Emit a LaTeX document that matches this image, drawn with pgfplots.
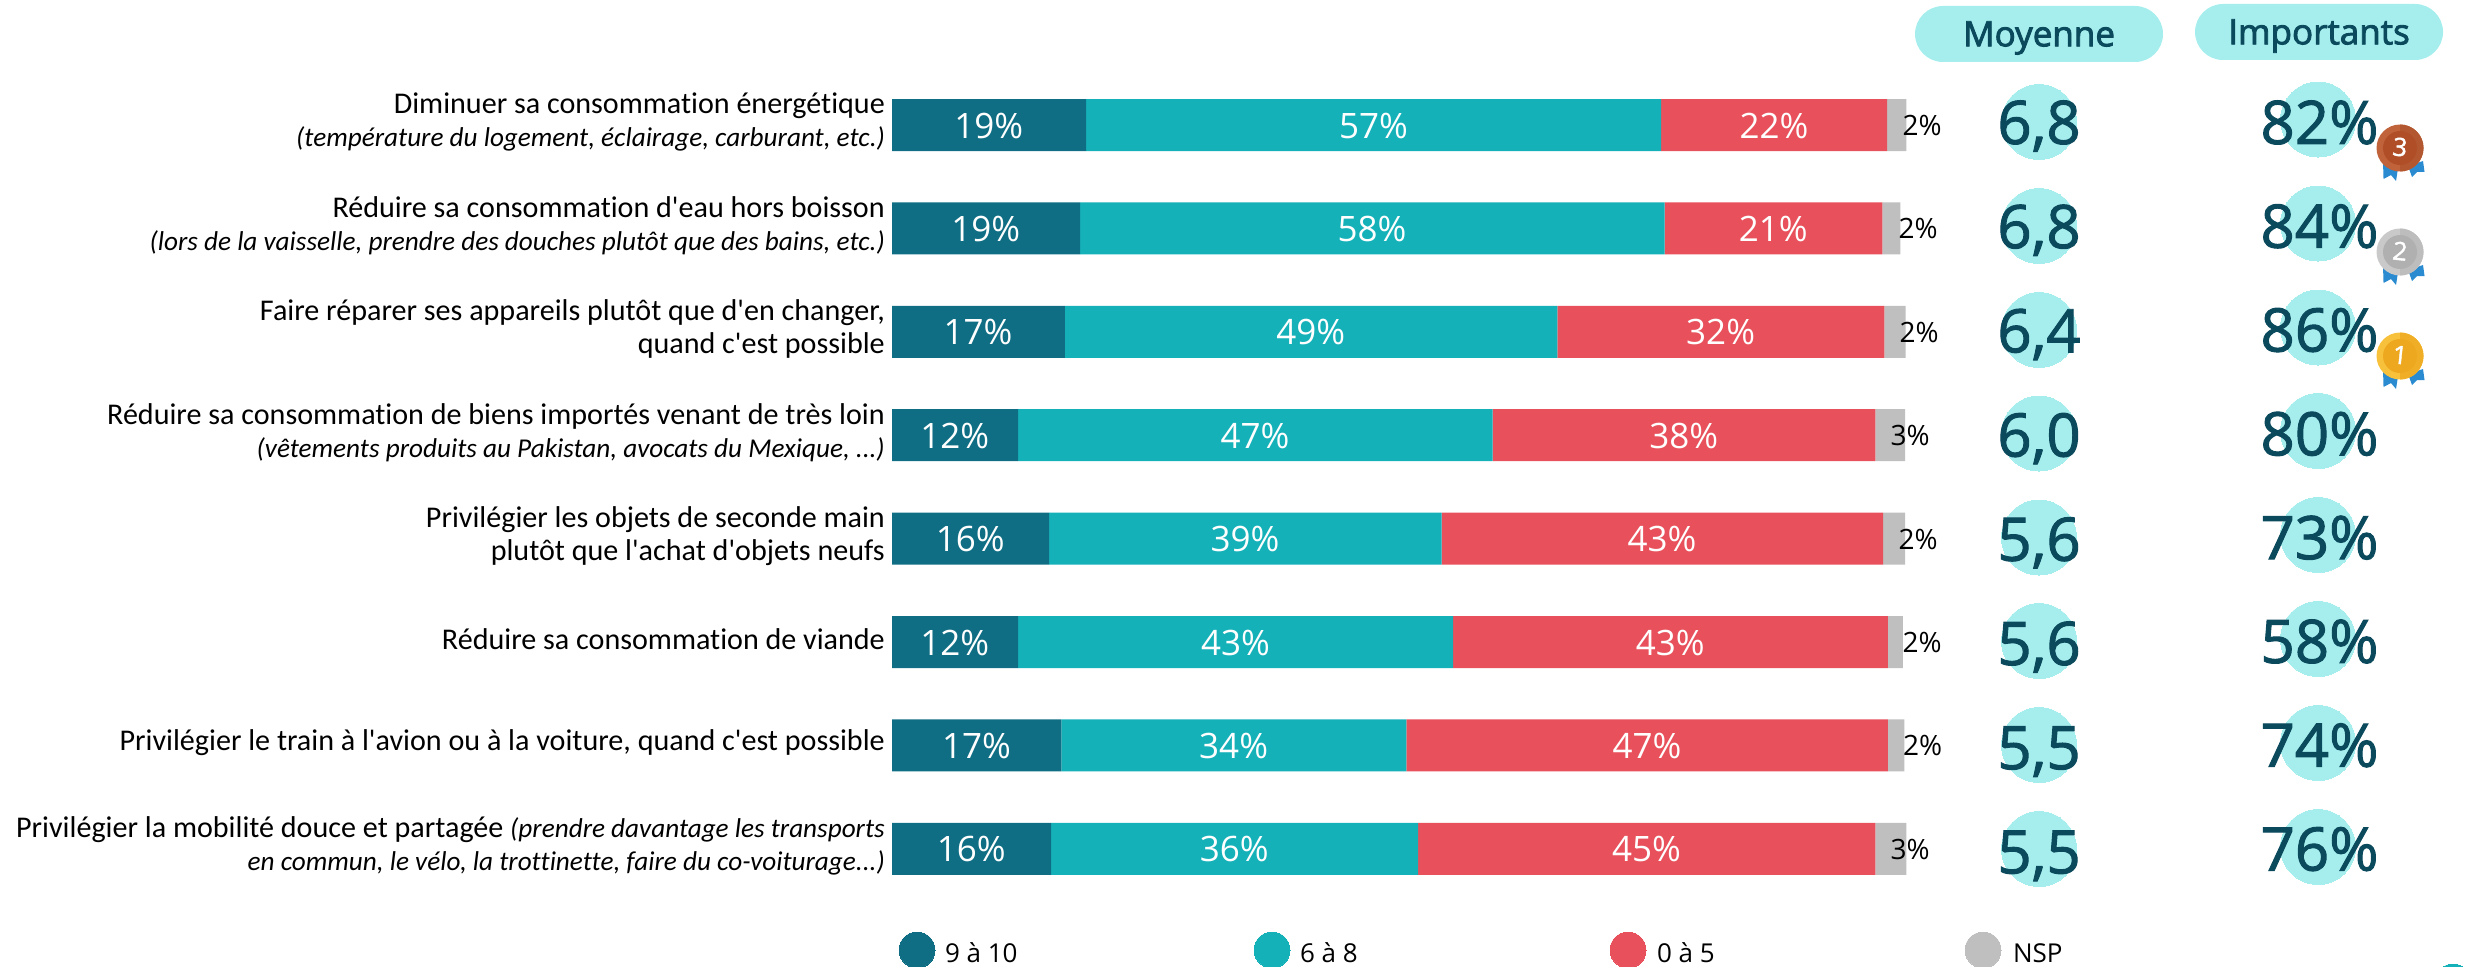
\documentclass[border=0pt]{standalone}
\usepackage{pgfplots}
\pgfplotsset{compat=1.18}
\usepackage{fontspec}
\setmainfont{Carlito}[Ligatures={TeX,NoCommon}]
\newfontfamily\osf{Open Sans}
\newfontfamily\osfb{Open Sans}[FakeBold=1.6]
\newfontfamily\osfc{Open Sans}[FakeBold=2.5]
\newcommand{\ital}[1]{{\fontsize{13.6}{16.6}\selectfont\itshape #1}}
\newcommand{\ap}{\textquotesingle}
\definecolor{cDark}{HTML}{0F6E84}
\definecolor{cTeal}{HTML}{14B1B9}
\definecolor{cRed}{HTML}{E8505B}
\definecolor{cGrey}{HTML}{BFBFBF}
\definecolor{cPale}{HTML}{A6EEEE}
\definecolor{cInk}{HTML}{0A4A5C}
\definecolor{rib}{HTML}{2A8BD0}
\definecolor{brA}{HTML}{C0623A}\definecolor{brB}{HTML}{B2572F}\definecolor{brC}{HTML}{B04E28}
\definecolor{siA}{HTML}{C9C9C9}\definecolor{siB}{HTML}{BDBDBD}\definecolor{siC}{HTML}{B0B0B0}
\definecolor{goA}{HTML}{F8C13C}\definecolor{goB}{HTML}{EFAE25}\definecolor{goC}{HTML}{EDA81F}
\pgfplotsset{
  txt/.style n args={3}{only marks, mark=none, forget plot,
    point meta=explicit symbolic, nodes near coords,
    every node near coord/.append style={anchor=center, inner sep=0pt, outer sep=0pt,
      text height=#2, text depth=0pt, text=#3, font=\osf\fontsize{#1}{#1}\selectfont}},
  big/.style={only marks, mark=none, forget plot,
    point meta=explicit symbolic, nodes near coords,
    every node near coord/.append style={anchor=center, inner sep=0pt, outer sep=0pt,
      text height=21.4pt, text depth=0pt, text=cInk, font=\osfb\fontsize{30}{30}\selectfont}},
  dot/.style n args={2}{only marks, forget plot, mark=*, mark size=#2, mark options={draw=#1, line width=0pt, fill=#1}},
}
\newcommand{\medal}[6]{%
  \begin{scope}[shift={(#1,#2)}]
    \fill[rib] (-17,14) -- (-2,20) -- (-4,33) -- (-9,27) -- (-16.5,31) -- cycle;
    \fill[rib] (8,18) -- (23,13) -- (24.5,24) -- (17,24) -- (12,29) -- cycle;
    \fill[#3] (0,0) circle (23.5);
    \fill[#4] (0,23.5) arc (90:-90:23.5) -- cycle;
    \fill[#5] (0,0) circle (17);
    \node[text=white, font=\osfb\fontsize{12.6}{12.6}\selectfont, inner sep=0pt, rotate=-6] at (0,-1) {#6};
  \end{scope}}
\begin{document}
\begin{tikzpicture}
\useasboundingbox (0,0) rectangle (1238pt,483pt);
% ---- stacked bars
\begin{axis}[
  at={(446pt,32.75pt)}, anchor=south west,
  scale only axis, width=506.5pt, height=413.6pt,
  xmin=0, xmax=100, ymin=-0.5, ymax=7.5, y dir=reverse,
  xbar stacked, bar width=26pt, clip=false,
  axis line style={draw=none}, tick style={draw=none},
  xtick=\empty, ytick={0,1,2,3,4,5,6,7},
  yticklabel style={align=right, inner sep=0pt, xshift=-3.4pt, yshift=1.4pt,
    font=\fontsize{15.05}{16.6}\selectfont},
  yticklabels={
    {Diminuer sa consommation énergétique\\\ital{(température du logement, éclairage, carburant, etc.)}},
    {Réduire sa consommation d\ap eau hors boisson\\\ital{(lors de la vaisselle, prendre des douches plutôt que des bains, etc.)}},
    {Faire réparer ses appareils plutôt que d\ap en changer,\\quand c\ap est possible},
    {Réduire sa consommation de biens importés venant de très loin\\\ital{(vêtements produits au Pakistan, avocats du Mexique, ...)}},
    {Privilégier les objets de seconde main\\plutôt que l\ap achat d\ap objets neufs},
    {Réduire sa consommation de viande},
    {Privilégier le train à l\ap avion ou à la voiture, quand c\ap est possible},
    {Privilégier la mobilité douce et partagée \ital{(prendre davantage les transports}\\\ital{en commun, le vélo, la trottinette, faire du co-voiturage...)}},
  },
]
\addplot[fill=cDark, draw=none] coordinates {(19.17,0)(18.56,1)(17.06,2)(12.44,3)(15.50,4)(12.44,5)(16.72,6)(15.70,7)};
\addplot[fill=cTeal, draw=none] coordinates {(56.76,0)(57.72,1)(48.61,2)(46.84,3)(38.75,4)(42.96,5)(34.06,6)(36.23,7)};
\addplot[fill=cRed, draw=none] coordinates {(22.30,0)(21.48,1)(32.29,2)(37.80,3)(43.58,4)(42.90,5)(47.52,6)(45.14,7)};
\addplot[fill=cGrey, draw=none] coordinates {(1.90,0)(1.77,1)(2.11,2)(2.92,3)(2.18,4)(1.50,5)(1.63,6)(3.06,7)};
\end{axis}
% ---- overlay in pixel units
\begin{axis}[
  at={(0pt,0pt)}, anchor=south west,
  scale only axis, width=1238pt, height=483pt,
  xmin=0, xmax=2476, ymin=0, ymax=966, y dir=reverse,
  hide axis, clip=false,
]
% circles behind the figures
\addplot[dot={cPale}{18.75pt}] coordinates {(2039,122)(2039,226)(2039,330)(2039,433.5)(2039,537.5)(2039,641)(2039,745)(2039,849)};
\addplot[dot={cPale}{18.75pt}] coordinates {(2318,119.5)(2318,223.5)(2318,327.5)(2318,431)(2318,535)(2318,639)(2318,743)(2318,847)};
% Moyenne
\addplot[big] coordinates {
 (2039,122.5)[6,8] (2039,226.7)[6,8] (2039,330.9)[6,4] (2039,435.1)[6,0]
 (2039,539.3)[5,6] (2039,643.5)[5,6] (2039,747.7)[5,5] (2039,851.9)[5,5]};
% Importants
\addplot[big] coordinates {
 (2319.5,122.5)[82\%] (2319.5,226.3)[84\%] (2319.5,330.1)[86\%] (2319.5,433.9)[80\%]
 (2319.5,537.7)[73\%] (2319.5,641.5)[58\%] (2319.5,745.3)[74\%] (2319.5,849.1)[76\%]};
% bar figures
\addplot[txt={17.5}{12.6pt}{white}] coordinates {
 (988.8,125.5)[19\%] (985.7,228.9)[19\%] (978.1,332.3)[17\%] (954.7,435.7)[12\%]
 (970.2,539.1)[16\%] (954.7,642.5)[12\%] (976.4,745.9)[17\%] (971.3,849.3)[16\%]};
\addplot[txt={17.5}{12.6pt}{white}] coordinates {
 (1373.4,125.5)[57\%] (1372,228.9)[58\%] (1310.8,332.3)[49\%] (1255,435.7)[47\%]
 (1245,539.1)[39\%] (1235.4,642.5)[43\%] (1233.6,745.9)[34\%] (1234.3,849.3)[36\%]};
\addplot[txt={17.5}{12.6pt}{white}] coordinates {
 (1773.9,125.5)[22\%] (1773.3,228.9)[21\%] (1720.6,332.3)[32\%] (1683.7,435.7)[38\%]
 (1662,539.1)[43\%] (1670.3,642.5)[43\%] (1646.9,745.9)[47\%] (1646.5,849.3)[45\%]};
\addplot[txt={14}{10pt}{black}] coordinates {
 (1922,125.5)[2\%] (1918,228.9)[2\%] (1919,332.3)[2\%] (1910,435.7)[3\%]
 (1918,539.1)[2\%] (1922,642.5)[2\%] (1922.7,745.9)[2\%] (1910,849.3)[3\%]};
% legend
\addplot[dot={cDark}{9pt}] coordinates {(917,950)};
\addplot[dot={cTeal}{9pt}] coordinates {(1272,950)};
\addplot[dot={cRed}{9pt}] coordinates {(1628,950)};
\addplot[dot={cGrey}{9pt}] coordinates {(1983,950)};
\addplot[dot={cTeal}{9pt}] coordinates {(2453,982)};
\addplot[txt={13}{9.3pt}{black}, every node near coord/.append style={anchor=west}] coordinates {
 (945,953)[9 à 10] (1300,953)[6 à 8] (1657,953)[0 à 5] (2013,953)[NSP]};
\end{axis}
% ---- pills and medals
\begin{scope}[shift={(0pt,483pt)}, x=0.5pt, y=-0.5pt]
  \fill[cPale, rounded corners=14pt] (1915,6) rectangle (2163,62);
  \fill[cPale, rounded corners=14pt] (2195,4) rectangle (2443,60);
  \node[text=cInk, font=\osfc\fontsize{17.5}{17.5}\selectfont, inner sep=0pt] at (2039,38) {Moyenne};
  \node[text=cInk, font=\osfc\fontsize{17.5}{17.5}\selectfont, inner sep=0pt] at (2319,36) {Importants};
  \medal{2400}{148}{brA}{brB}{brC}{3}
  \medal{2400}{252}{siA}{siB}{siC}{2}
  \medal{2400}{356}{goA}{goB}{goC}{1}
\end{scope}
\end{tikzpicture}
\end{document}
